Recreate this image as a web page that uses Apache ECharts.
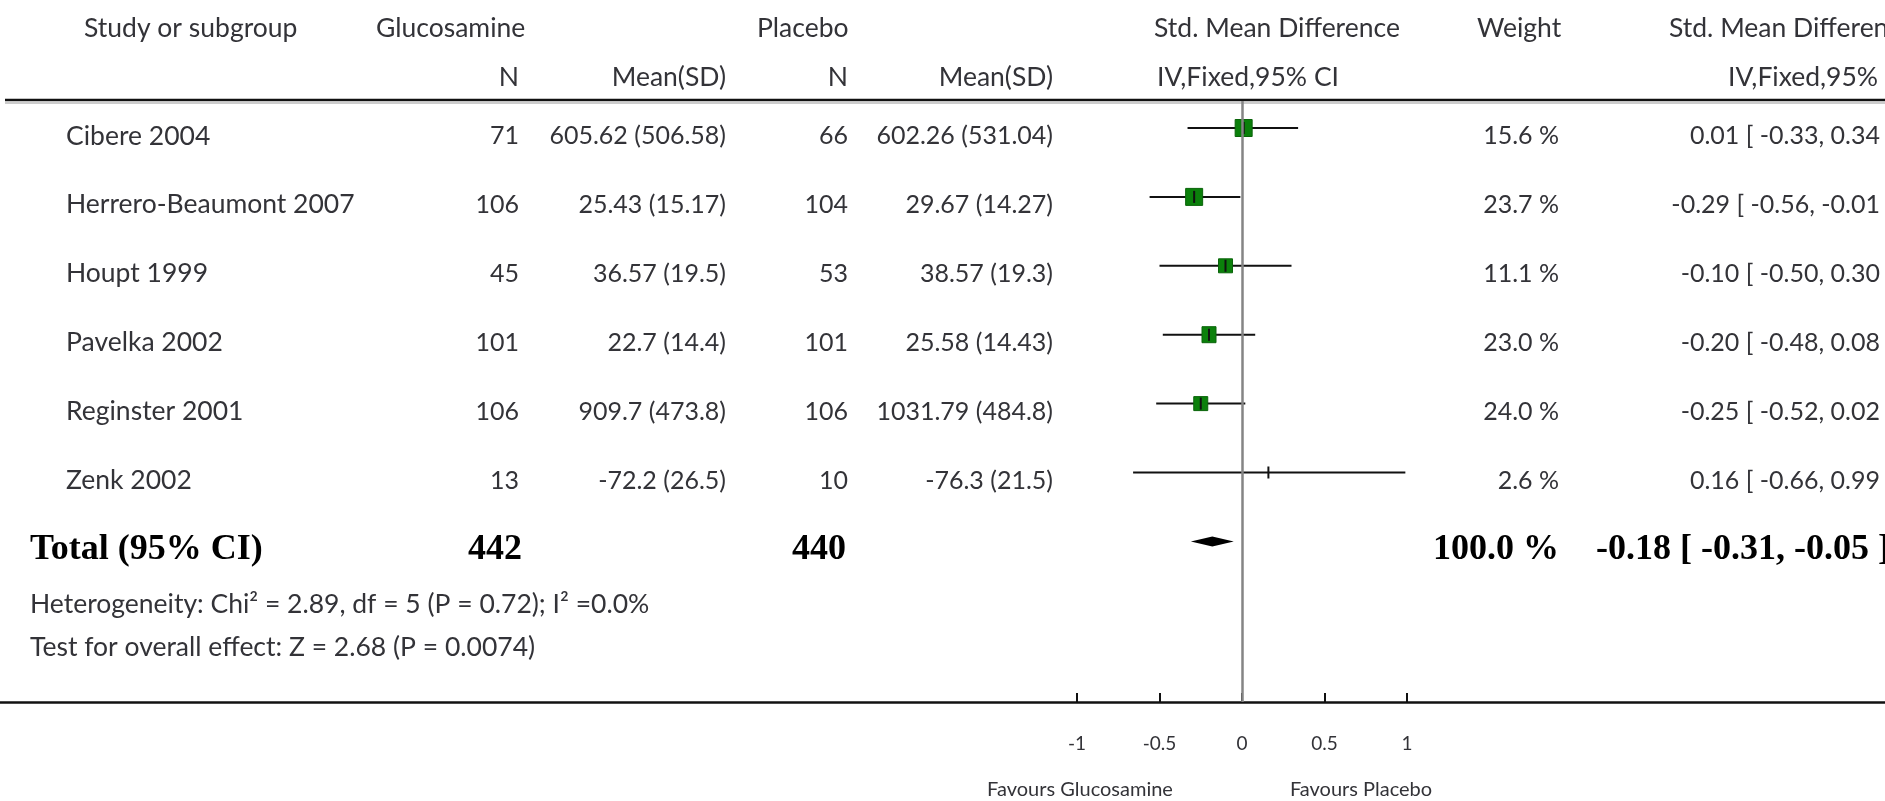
<!DOCTYPE html>
<html>
<head>
<meta charset="utf-8">
<title>Glucosamine vs Placebo – Std. Mean Difference</title>
<script src="https://cdn.jsdelivr.net/npm/echarts@6/dist/echarts.min.js"></script>
<style>
  html, body { margin: 0; padding: 0; background: #ffffff; }
  #chart { width: 1885px; height: 801px; }
</style>
</head>
<body>
<div id="chart"></div>
<script>
// ---- study data ----
const studies = ['Cibere 2004', 'Herrero-Beaumont 2007', 'Houpt 1999', 'Pavelka 2002', 'Reginster 2001', 'Zenk 2002'];
const glucosamineN = [71, 106, 45, 101, 106, 13];
const glucosamineMeanSD = ['605.62 (506.58)', '25.43 (15.17)', '36.57 (19.5)', '22.7 (14.4)', '909.7 (473.8)', '-72.2 (26.5)'];
const placeboN = [66, 104, 53, 101, 106, 10];
const placeboMeanSD = ['602.26 (531.04)', '29.67 (14.27)', '38.57 (19.3)', '25.58 (14.43)', '1031.79 (484.8)', '-76.3 (21.5)'];
const weights = [15.6, 23.7, 11.1, 23.0, 24.0, 2.6];
const smd = [0.01, -0.29, -0.10, -0.20, -0.25, 0.16];
const ciLower = [-0.33, -0.56, -0.50, -0.48, -0.52, -0.66];
const ciUpper = [0.34, -0.01, 0.30, 0.08, 0.02, 0.99];

// ---- pooled result ----
const totalLabel = 'Total (95% CI)';
const totalN = [442, 440];
const totalWeight = 100.0;
const totalEffect = [-0.18, -0.31, -0.05]; // estimate, lower, upper
const heterogeneityText = 'Heterogeneity: Chi\u00B2 = 2.89, df = 5 (P = 0.72); I\u00B2 =0.0%';
const overallEffectText = 'Test for overall effect: Z = 2.68 (P = 0.0074)';

// ---- axis ----
const xTicks = [-1, -0.5, 0, 0.5, 1];
const xTickLabels = ['-1', '-0.5', '0', '0.5', '1'];
const favoursLeft = 'Favours Glucosamine';
const favoursRight = 'Favours Placebo';

// ---- layout / style ----
const W = 1885, H = 801;
const ZERO_PX = 1242, UNIT_PX = 165;          // x position of 0 and pixels per unit
const X_MIN = -ZERO_PX / UNIT_PX, X_MAX = (W - ZERO_PX) / UNIT_PX;
const GRID_TOP = 101, AXIS_Y = 702;
const ROW_FIRST = 128, ROW_STEP = 68.9;
const Y_MIN = -(ROW_FIRST - GRID_TOP) / ROW_STEP;
const Y_MAX = Y_MIN + (AXIS_Y - GRID_TOP) / ROW_STEP;
const TEXT_DY = 8;                              // text sits a little below the marker line
const FONT = 'Lato, "Open Sans", "Noto Sans", sans-serif';
const SERIF = '"Liberation Serif", "DejaVu Serif", serif';
const TXT = '#333338';
const FS_WORD = 26.5;   // headers and study names
const FS_NUM = 25;      // numeric columns
const BOX = [[17, 17], [17, 17], [14, 14], [14, 16], [14, 14], [0, 0]]; // square marker sizes (w, h)

// column anchors
const COL = {
  name: 66, gN: 519, gMean: 726, pN: 848, pMean: 1053, weight: 1559, smd: 1894
};

const fmt2 = v => v.toFixed(2);
const ciText = (e, l, u) => fmt2(e) + ' [ ' + fmt2(l) + ', ' + fmt2(u) + ' ]';

function txt(text, x, y, align, extra) {
  return {
    type: 'text',
    style: Object.assign({
      text: text, x: x, y: y, align: align || 'left', verticalAlign: 'middle',
      fontFamily: FONT, fontSize: FS_WORD, fill: TXT
    }, extra || {})
  };
}
const NUM = { fontSize: FS_NUM };

const chart = echarts.init(document.getElementById('chart'), null, { renderer: 'canvas' });

const studyRows = studies.map((s, i) => [i, smd[i], ciLower[i], ciUpper[i]]);

function renderStudy(params, api) {
  const i = api.value(0);
  const p = api.coord([api.value(1), i]);
  const pl = api.coord([api.value(2), i]);
  const ph = api.coord([api.value(3), i]);
  const w = BOX[i][0], h = BOX[i][1];
  const children = [{
    type: 'line',
    shape: { x1: pl[0], y1: pl[1], x2: ph[0], y2: ph[1] },
    style: { stroke: '#111111', lineWidth: 2 }
  }];
  if (w > 0) {
    children.push({
      type: 'rect',
      shape: { x: p[0] - w / 2, y: p[1] - h / 2, width: w, height: h },
      style: { fill: '#0b800b', stroke: '#0a640a', lineWidth: 1 }
    });
  }
  children.push({
    type: 'line',
    shape: { x1: p[0], y1: p[1] - 6, x2: p[0], y2: p[1] + 6 },
    style: { stroke: '#111111', lineWidth: 2 }
  });
  return { type: 'group', children: children };
}

function renderDiamond(params, api) {
  const i = api.value(0);
  const c = api.coord([api.value(1), i]);
  const l = api.coord([api.value(2), i]);
  const u = api.coord([api.value(3), i]);
  return {
    type: 'polygon',
    shape: { points: [[l[0], c[1]], [c[0], c[1] - 5], [u[0], c[1]], [c[0], c[1] + 5]] },
    style: { fill: '#000000' }
  };
}

function renderTableRow(params, api) {
  const i = api.value(0);
  const y = api.coord([0, i])[1] + TEXT_DY;
  return {
    type: 'group',
    children: [
      txt(studies[i], COL.name, y, 'left'),
      txt(String(glucosamineN[i]), COL.gN, y, 'right', NUM),
      txt(glucosamineMeanSD[i], COL.gMean, y, 'right', NUM),
      txt(String(placeboN[i]), COL.pN, y, 'right', NUM),
      txt(placeboMeanSD[i], COL.pMean, y, 'right', NUM),
      txt(weights[i].toFixed(1) + ' %', COL.weight, y, 'right', NUM),
      txt(ciText(smd[i], ciLower[i], ciUpper[i]), COL.smd, y, 'right', NUM)
    ]
  };
}

function renderTotalRow(params, api) {
  const i = api.value(0);
  const y = api.coord([0, i])[1] + TEXT_DY;
  const bold = { fontFamily: SERIF, fontWeight: 'bold', fontSize: 36, fill: '#000000' };
  return {
    type: 'group',
    children: [
      txt(totalLabel, 30, y, 'left', bold),
      txt(String(totalN[0]), 522, y, 'right', bold),
      txt(String(totalN[1]), 846, y, 'right', bold),
      txt(totalWeight.toFixed(1) + ' %', COL.weight, y, 'right', bold),
      txt(ciText(totalEffect[0], totalEffect[1], totalEffect[2]), COL.smd - 4, y, 'right', bold)
    ]
  };
}

const headerY1 = 28, headerY2 = 77;
const graphics = [
  txt('Study or subgroup', 84, headerY1, 'left'),
  txt('Glucosamine', 376, headerY1, 'left'),
  txt('Placebo', 757, headerY1, 'left'),
  txt('Std. Mean Difference', 1277, headerY1, 'center'),
  txt('Weight', 1477, headerY1, 'left'),
  txt('Std. Mean Difference', 1669, headerY1, 'left'),
  txt('N', COL.gN, headerY2, 'right'),
  txt('Mean(SD)', COL.gMean, headerY2, 'right'),
  txt('N', COL.pN, headerY2, 'right'),
  txt('Mean(SD)', COL.pMean, headerY2, 'right'),
  txt('IV,Fixed,95% CI', 1248, headerY2, 'center'),
  txt('IV,Fixed,95% CI', 1728, headerY2, 'left'),
  { type: 'line', shape: { x1: 5, y1: 100, x2: W, y2: 100 }, style: { stroke: '#111111', lineWidth: 2.5 } },
  { type: 'line', shape: { x1: 5, y1: 103, x2: W, y2: 103 }, style: { stroke: '#9a9a9a', lineWidth: 1 } },
  txt(heterogeneityText, 30, 604, 'left', { fontSize: 26.5 }),
  txt(overallEffectText, 30, 647, 'left', { fontSize: 26.5 }),
  txt(favoursLeft, 1080, 790, 'center', { fontSize: 20 }),
  txt(favoursRight, 1361, 790, 'center', { fontSize: 20 })
];

chart.setOption({
  animation: false,
  backgroundColor: '#ffffff',
  grid: { left: 0, right: 0, top: GRID_TOP, bottom: H - AXIS_Y, containLabel: false },
  xAxis: {
    type: 'value',
    min: X_MIN,
    max: X_MAX,
    splitLine: { show: false },
    axisLine: { show: true, onZero: false, lineStyle: { color: '#111111', width: 2.5 } },
    axisTick: { show: true, inside: true, length: 9, customValues: xTicks, lineStyle: { color: '#111111', width: 2 } },
    axisLabel: {
      show: true,
      customValues: xTicks,
      margin: 32,
      fontFamily: FONT,
      fontSize: 19,
      color: TXT,
      formatter: v => xTickLabels[xTicks.indexOf(v)]
    }
  },
  yAxis: {
    type: 'value',
    inverse: true,
    min: Y_MIN,
    max: Y_MAX,
    show: false
  },
  graphic: graphics,
  series: [
    {
      type: 'custom',
      name: 'studies',
      renderItem: renderStudy,
      data: studyRows,
      z: 3,
      markLine: {
        silent: true,
        symbol: 'none',
        label: { show: false },
        lineStyle: { color: '#858585', width: 2.5, type: 'solid' },
        data: [{ xAxis: 0 }]
      }
    },
    {
      type: 'custom',
      name: 'total',
      renderItem: renderDiamond,
      data: [[studies.length, totalEffect[0], totalEffect[1], totalEffect[2]]],
      z: 3
    },
    {
      type: 'custom',
      name: 'table',
      renderItem: renderTableRow,
      data: studies.map((s, i) => [i]),
      z: 2
    },
    {
      type: 'custom',
      name: 'tableTotal',
      renderItem: renderTotalRow,
      data: [[studies.length]],
      z: 2
    }
  ]
});
</script>
</body>
</html>
